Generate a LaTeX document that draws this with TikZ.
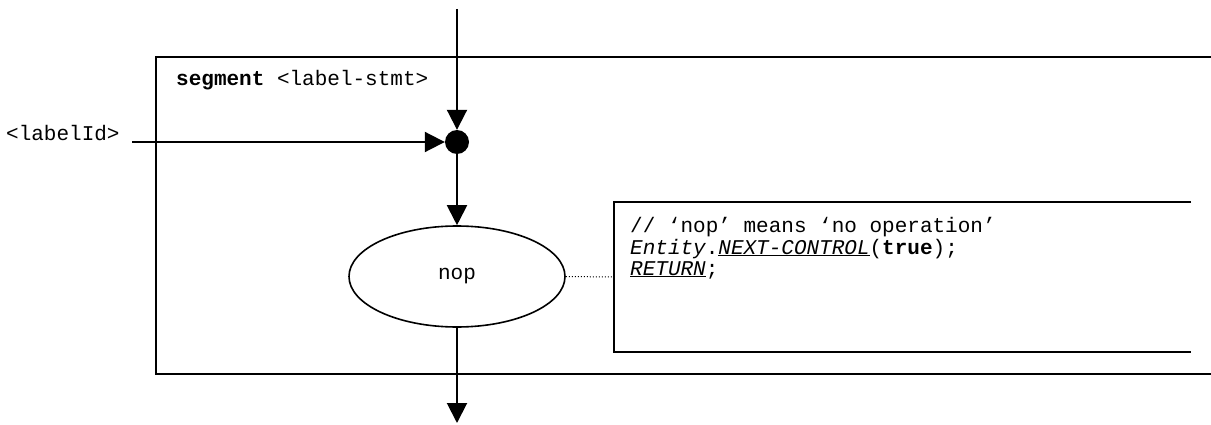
\documentclass[tikz,border=0pt]{standalone}
\usepackage{fontspec}
\setmonofont{Liberation Mono}
\usetikzlibrary{arrows.meta,shapes.geometric}
\tikzset{
  mono/.style={font=\ttfamily\fontsize{21}{23}\selectfont, inner sep=0pt},
  flow/.style={line width=2pt, -{Triangle[length=20pt,width=20pt]}},
  frame/.style={line width=2pt},
  junction/.style={circle, fill=black, draw=none, minimum size=24pt, inner sep=0pt},
  procnode/.style={ellipse, draw, line width=1.6pt, minimum width=216pt, minimum height=101pt, inner sep=0pt},
  attach/.style={line width=1pt, dotted}
}
\begin{document}
\begin{tikzpicture}[x=1pt,y=-1pt]
\useasboundingbox (0,0) rectangle (1211,425);
% segment frame
\draw[frame] (1211,57) -- (156,57) -- (156,374) -- (1211,374);
\node[mono, anchor=base west] (seglabel) at (176,86) {\textbf{segment} <label-stmt>};
% comment frame
\draw[frame] (1191,202) -- (614,202) -- (614,352) -- (1191,352);
\node[mono, anchor=base west] (c1) at (630,233) {// ‘nop’ means ‘no operation’};
\node[mono, anchor=base west] (c2) at (630,254) {\textit{Entity}.\underline{\textit{NEXT-CONTROL}}(\textbf{true});};
\node[mono, anchor=base west] (c3) at (630,275) {\underline{\textit{RETURN}};};
% nodes
\coordinate (top) at (457,9);
\node[junction] (dot) at (457,142) {};
\node[mono, anchor=base west] (lid) at (6,141) {<labelId>};
\coordinate (lin) at (132,142);
\node[procnode, mono] (nop) at (457,276.5) {nop};
\coordinate (bot) at (457,423);
\coordinate (cl) at (614,277);
% connectors
\draw[flow] (top) -- (dot);
\draw[flow] (lin) -- (dot);
\draw[flow] (dot) -- (nop);
\draw[flow] (nop) -- (bot);
\draw[attach] (nop.east) -- (cl);
\end{tikzpicture}
\end{document}
